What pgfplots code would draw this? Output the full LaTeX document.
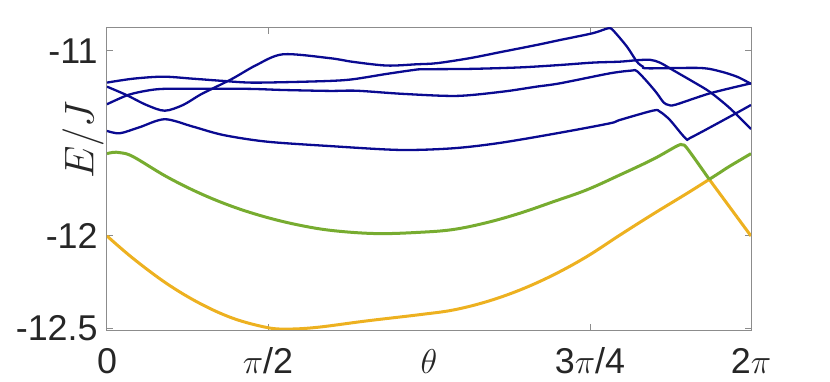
\documentclass[border=0pt]{standalone}
\usepackage{fontspec}
\setmainfont{Liberation Sans}
\usepackage{pgfplots}
\pgfplotsset{compat=1.18}

\definecolor{bandblue}{RGB}{10,10,145}
\definecolor{bandgreen}{RGB}{119,172,48}
\definecolor{bandyellow}{RGB}{237,177,32}
\definecolor{axgray}{RGB}{140,140,140}
\definecolor{labelgray}{RGB}{38,38,38}

\begin{document}
\begin{tikzpicture}
  \begin{axis}[
    scale only axis,
    width=322bp, height=151bp,
    xmin=0, xmax=6.28319,
    ymin=-12.508, ymax=-10.876,
    xtick={0,1.5708,4.7124,6.28319},
    xticklabels={0,$\pi$/2,3$\pi$/4,2$\pi$},
    ytick={-12.5,-12,-11},
    yticklabels={-12.5,-12,-11},
    tick align=inside,
    major tick length=3bp,
    axis line style={axgray, line width=0.5bp},
    tick style={axgray, line width=0.5bp},
    tick label style={font=\fontsize{18}{21}\selectfont, text=labelgray},
    xticklabel style={anchor=base, yshift=-21.5bp},
    yticklabel style={inner xsep=0pt, xshift=-4.5bp},
    xlabel={$\theta$},
    xlabel style={at={(axis description cs:0.5,0)}, anchor=base, yshift=-21.5bp,
      font=\fontsize{18}{21}\selectfont, text=labelgray},
    ylabel={$E/J$},
    ylabel style={at={(axis description cs:-0.037,0.63)}, anchor=center,
      font=\fontsize{20}{24}\selectfont, text=labelgray},
  ]
    % lowest band
    \addplot[bandyellow, line width=1.5bp, smooth, tension=0.6] coordinates {
      (0,-12.0) (0.254,-12.121) (0.580,-12.256) (0.905,-12.364) (1.230,-12.445)
      (1.556,-12.494) (1.751,-12.503) (2.044,-12.494) (2.532,-12.459)
      (3.052,-12.425) (3.377,-12.400) (3.703,-12.355) (4.028,-12.292)
      (4.353,-12.211) (4.679,-12.112) (5.004,-11.995) (5.329,-11.881)
      (5.655,-11.771) (5.876,-11.694)
    };
    \addplot[bandyellow, line width=1.5bp] coordinates {
      (5.876,-11.694) (6.283,-12.0)
    };
    % second band
    \addplot[bandgreen, line width=1.5bp, smooth, tension=0.6] coordinates {
      (0,-11.555) (0.060,-11.548) (0.130,-11.550) (0.254,-11.571) (0.580,-11.679)
      (0.905,-11.769) (1.230,-11.842) (1.556,-11.899) (1.881,-11.942)
      (2.206,-11.971) (2.630,-11.987) (3.052,-11.980) (3.377,-11.965)
      (3.703,-11.928) (4.028,-11.877) (4.353,-11.815) (4.679,-11.751)
      (5.004,-11.670) (5.329,-11.585) (5.560,-11.514) (5.615,-11.508)
      (5.665,-11.530) (5.876,-11.694)
    };
    \addplot[bandgreen, line width=1.5bp, smooth, tension=0.6] coordinates {
      (5.876,-11.694) (5.980,-11.657) (6.078,-11.622) (6.283,-11.555)
    };
    % upper levels
    \addplot[bandblue, line width=1.15bp, smooth, tension=0.5] coordinates {
      (0,-11.171) (0.254,-11.150) (0.547,-11.139) (0.839,-11.150) (1.132,-11.162)
      (1.393,-11.171) (1.718,-11.169) (2.174,-11.162) (2.400,-11.153)
      (2.730,-11.124) (2.990,-11.103) (3.082,-11.099) (3.540,-11.097)
      (4.028,-11.089) (4.419,-11.076) (4.741,-11.063) (5.004,-11.058)
      (5.170,-11.050) (5.300,-11.048) (5.394,-11.063) (5.520,-11.103)
      (5.717,-11.166) (5.883,-11.222) (6.078,-11.310) (6.283,-11.422)
    };
    \addplot[bandblue, line width=1.15bp, smooth, tension=0.5] coordinates {
      (0,-11.193) (0.189,-11.238) (0.385,-11.292) (0.563,-11.323) (0.742,-11.292)
      (0.905,-11.238) (1.035,-11.202) (1.230,-11.148) (1.458,-11.076)
      (1.718,-11.018) (2.174,-11.039) (2.400,-11.059) (2.730,-11.079)
      (3.023,-11.072) (3.220,-11.066) (3.540,-11.039) (3.860,-11.004)
      (4.190,-10.968) (4.419,-10.941) (4.741,-10.904) (4.887,-10.878)
      (4.936,-10.888) (5.073,-10.977) (5.170,-11.058) (5.229,-11.085)
      (5.278,-11.094) (5.785,-11.092) (5.980,-11.110) (6.150,-11.140)
      (6.283,-11.178)
    };
    \addplot[bandblue, line width=1.15bp, smooth, tension=0.5] coordinates {
      (0,-11.288) (0.205,-11.238) (0.385,-11.215) (0.547,-11.205) (0.905,-11.204)
      (1.393,-11.205) (1.718,-11.211) (2.174,-11.216) (2.437,-11.215)
      (2.890,-11.232) (3.413,-11.243) (3.860,-11.220) (4.190,-11.193)
      (4.419,-11.175) (4.907,-11.121) (5.119,-11.106) (5.168,-11.108)
      (5.260,-11.160) (5.360,-11.225) (5.430,-11.278) (5.480,-11.292)
      (5.550,-11.290) (5.883,-11.229) (6.283,-11.175)
    };
    \addplot[bandblue, line width=1.15bp, smooth, tension=0.5] coordinates {
      (0,-11.432) (0.124,-11.445) (0.319,-11.412) (0.563,-11.369) (0.839,-11.409)
      (1.132,-11.454) (1.556,-11.490) (2.174,-11.514) (2.857,-11.535)
      (3.377,-11.526) (3.833,-11.497) (4.419,-11.442) (4.907,-11.391)
      (5.004,-11.373) (5.330,-11.322) (5.394,-11.328) (5.492,-11.373)
      (5.645,-11.472) (5.704,-11.466) (6.107,-11.346) (6.283,-11.292)
    };
  \end{axis}
  \path[draw=none] (current axis.south west) ++(-53.5bp,-26bp) rectangle ++(415bp,191bp);
\end{tikzpicture}
\end{document}
